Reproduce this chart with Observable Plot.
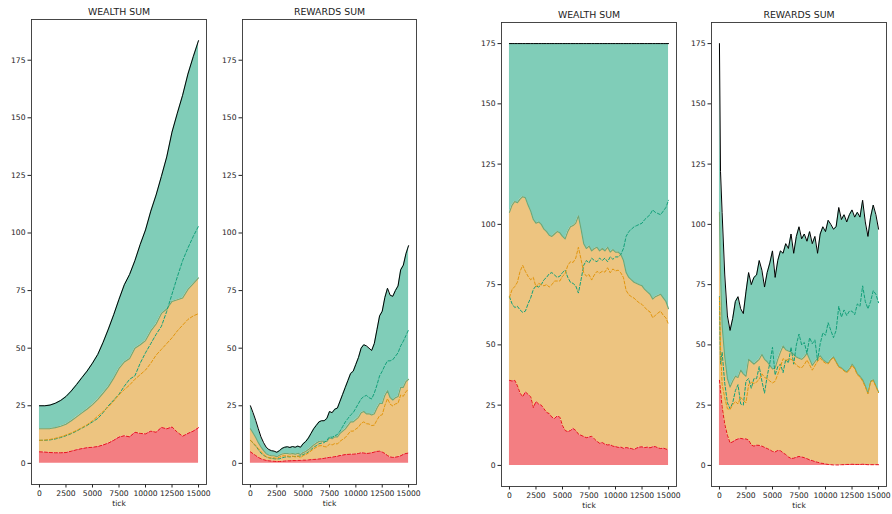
<!DOCTYPE html>
<html>
<head>
<meta charset="utf-8">
<script src="https://cdn.jsdelivr.net/npm/d3@7"></script>
<script src="https://cdn.jsdelivr.net/npm/@observablehq/plot@0.6"></script>
<style>
  html, body { margin: 0; padding: 0; background: #fff; }
  #fig { position: relative; width: 892px; height: 514px; overflow: hidden; font-family: "DejaVu Sans", sans-serif; }
  #fig svg { position: absolute; top: 0; overflow: visible; }
</style>
</head>
<body>
<div id="fig"></div>
<script>
// ---- sampling grids (tick) ----
const ticks500 = [0,500,1000,1500,2000,2500,3000,3500,4000,4500,5000,5500,6000,6500,7000,7500,
  8000,8500,9000,9500,10000,10500,11000,11500,12000,12500,13000,13500,14000,14500,15000];
const ticks250 = [0,250,500,750,1000,1250,1500,1750,2000,2250,2500,2750,3000,3250,3500,3750,
  4000,4250,4500,4750,5000,5250,5500,5750,6000,6250,6500,6750,7000,7250,7500,7750,
  8000,8250,8500,8750,9000,9250,9500,9750,10000,10250,10500,10750,11000,11250,11500,11750,
  12000,12250,12500,12750,13000,13250,13500,13750,14000,14250,14500,14750,15000];
const ticksEarly = [0,100,250,500,750,1000,1250,1500,1750,2000,2250,2500,2750,3000,3250,3500,3750,
  4000,4250,4500,4750,5000,5250,5500,5750,6000,6250,6500,6750,7000,7250,7500,7750,
  8000,8250,8500,8750,9000,9250,9500,9750,10000,10250,10500,10750,11000,11250,11500,11750,
  12000,12250,12500,12750,13000,13250,13500,13750,14000,14250,14500,14750,15000];

// ---- run A: wealth sum ----
const wealthA_red = [5.0,4.9,4.7,4.6,4.6,4.7,5.3,5.9,6.4,6.8,7.0,7.3,8.0,8.8,10.0,11.4,
  12.0,11.5,13.5,13.0,12.8,14.0,13.5,15.6,15.0,15.8,13.5,11.8,13.0,14.0,15.5];
const wealthA_orange = [10.0,10.1,10.4,10.9,11.5,12.3,13.2,14.3,15.5,16.8,18.5,20.5,22.5,24.5,27.0,29.8,
  32.0,34.0,36.5,38.5,40.5,43.5,47.0,49.5,52.0,54.5,57.5,60.0,62.5,64.0,65.0];
const wealthA_green = [10.0,10.0,10.2,10.6,11.2,12.0,12.9,14.0,15.3,16.5,18.0,19.5,22.0,25.0,27.5,30.0,
  33.5,36.5,38.0,43.5,48.0,52.0,56.0,59.5,66.0,73.5,81.0,88.0,93.5,98.5,103.0];

// ---- run A: rewards sum ----
const rewardsA_red = [5.0,4.2,3.4,2.6,2.0,1.6,1.3,1.1,1.0,0.9,0.8,0.8,0.9,1.0,1.1,1.1,
  1.2,1.2,1.3,1.3,1.4,1.4,1.5,1.6,1.7,1.8,1.9,2.0,2.2,2.4,2.6,2.7,
  2.9,3.1,3.4,3.6,3.8,3.9,4.0,4.0,4.1,4.3,4.6,4.5,4.3,4.4,4.6,4.9,
  5.2,5.3,4.9,4.3,3.4,2.8,2.6,2.7,2.9,3.3,3.9,4.3,4.5];
const rewardsA_orange = [10,9.0,7.8,6.4,5.1,3.9,2.9,2.5,2.3,2.4,2.1,2.7,3.2,3.3,3.2,3.0,
  3.1,2.8,3.1,2.5,3.3,3.8,4.5,5.4,6.3,7.0,7.6,7.7,7.3,7.1,8.4,8.0,
  8.6,8.4,9.6,10.4,11.2,12.6,14.0,14.0,14.9,15.7,17.4,18.0,17.2,17.1,16.4,16.6,
  18.8,20.7,21.1,25.2,28.1,25.7,24.9,25.8,26.1,29.7,29.1,31.2,32.0];
const rewardsA_green = [10,8.8,7.5,6.0,4.4,3.5,2.8,2.4,2.2,2.0,1.9,2.0,2.4,2.7,2.9,2.8,
  3.0,3.0,3.1,3.2,3.8,4.3,5.0,6.0,7.0,7.7,8.5,8.8,9.0,10.0,11.5,11.3,
  12.0,12.5,14.0,16.0,18.0,19.5,21.0,22.0,24.0,26.0,28.0,29.0,29.5,28.5,28.0,30.5,
  34.0,38.0,40.0,42.5,44.5,44.5,45.0,46.5,48.0,51.0,53.0,55.5,58.0];

// ---- run B: wealth sum ----
const wealthB_red = [35.3,35,35.3,33,30,28.5,30.5,29.5,28.5,24,26.5,25.5,25,23.5,22,21.5,
  20,19.5,20.5,20,16.5,14.5,14,14.5,15.3,14.5,13,12.5,12,11.5,11.8,12.1,
  11,10,9.2,9.5,8.8,8.5,8.6,8,7.8,7.5,7.6,7.1,7.4,7.2,7,6.6,
  7.2,7.6,7.7,7.4,7.6,7.3,7.7,7.8,7.3,7,7.2,6.8,6.5];
const wealthB_orange = [69.7,73,74.2,76,80.5,83,80.5,78.5,77,78,74,75.5,75,74.5,75,74,
  75,76.5,76.5,76.5,78.5,79.5,83,84.5,84.2,86,90.5,85.5,80,78.5,79.2,76.9,
  79,80.5,79.8,80.5,80.2,82,79.9,81.5,80.7,81,79.9,77.9,72.6,70.8,70,69.4,
  68.3,67.4,66.8,65.6,64.4,63.7,61.3,62.2,63.2,64,62.3,61.2,58.5];
const wealthB_green = [70,67,65.5,66,64.5,63.5,64,67,69.5,73,74.5,74,75,77,78,79.5,
  80,79,78,78.5,80,81,78,76,75.5,74.5,71.5,77,83,85,84,86,
  85,84.5,86,85,86,84.5,86.5,85.5,86.5,86.5,87.5,90,95,97,98,99,
  99.5,100,100.5,102,103,104,106,105,104.5,104,105.5,107,110];

// ---- run B: rewards sum ----
const rewardsB_red = [35.3,31,24.3,17,12.5,9.3,9.8,10.5,11,11.2,11,11,10.5,8.5,8,8.4,8.3,
  8,7.5,7,6.5,5.8,5.6,6.2,6.1,5.2,4.5,3.5,2.9,3.0,3.4,3.7,3.5,
  3.2,2.8,2.3,2.0,1.6,1.3,1.0,0.8,0.6,0.4,0.3,0.2,0.2,0.2,0.3,0.3,
  0.4,0.4,0.5,0.4,0.4,0.4,0.5,0.4,0.3,0.3,0.3,0.3,0.3];
const rewardsB_orange = [69.7,49,33.7,28,23.5,23.2,25.2,26.5,25.5,28.3,27,26,33.5,34.5,34,34.6,35.7,
  38,36.5,36,35,34.2,34.9,37.8,40.9,44.3,43.5,44,44.1,43,41.6,40.8,40.5,
  41.8,43.7,41.7,39.5,41.4,43.2,44.5,43.2,42.4,42.1,43.7,44.8,42.8,40.8,40.2,39.2,
  38.4,39.6,41.5,40.1,37.6,36.6,35,32.6,29.7,34.7,35.2,32.7,30.2];
const rewardsB_green = [70,42,47,34,26,23.5,26,31,33.5,25.5,25,35,36,32,36,36,41,
  35,30,37,42.5,49,37.5,41,42,38.5,44,42.5,49,42,50,54.5,50,
  51,46.5,53,50.5,52,43.5,50.5,55,54,59.2,56,53,56,66,61.5,64.5,
  62.2,64,64,62.5,67,66,74.5,68,65,68,72.5,71,67.5];

// ---- axis ticks ----
const xTicks = [0, 2500, 5000, 7500, 10000, 12500, 15000];
const yTicks = [0, 25, 50, 75, 100, 125, 150, 175];

// ---- colours ----
const fillRed = "#f37e82", fillOrange = "#edc480", fillGreen = "#80cdb8";
const lineRed = "#e8141c", lineOrange = "#e2960f", lineGreen = "#13a07a", edgeGreen = "#6fa775";

function rows(tick, red, orange, green) {
  return tick.map((t, i) => ({
    tick: t, red: red[i], orange: orange[i], green: green[i],
    s1: red[i], s2: red[i] + orange[i], s3: red[i] + orange[i] + green[i]
  }));
}

const fig = document.getElementById("fig");

function panel({title, data, yDomain, L, R, T, B}) {
  const mL = 34, mR = 6;
  const width = (R - L) + mL + mR;
  const dash = "3,2";
  const svg = Plot.plot({
    width, height: 514,
    marginLeft: mL, marginRight: mR, marginTop: T, marginBottom: 514 - B,
    x: {domain: [-750, 15750]},
    y: {domain: yDomain},
    style: {fontFamily: "DejaVu Sans", fontSize: "7.6px", color: "#222", background: "transparent", overflow: "visible"},
    marks: [
      Plot.area(data, {x1: "tick", y1: 0, y2: "s1", fill: fillRed}),
      Plot.area(data, {x1: "tick", y1: "s1", y2: "s2", fill: fillOrange}),
      Plot.area(data, {x1: "tick", y1: "s2", y2: "s3", fill: fillGreen}),
      Plot.line(data, {x: "tick", y: "s2", stroke: edgeGreen, strokeWidth: 1.1}),
      Plot.line(data, {x: "tick", y: "green", stroke: lineGreen, strokeWidth: 1, strokeDasharray: dash}),
      Plot.line(data, {x: "tick", y: "orange", stroke: lineOrange, strokeWidth: 1, strokeDasharray: dash}),
      Plot.line(data, {x: "tick", y: "red", stroke: lineRed, strokeWidth: 1, strokeDasharray: dash}),
      Plot.line(data, {x: "tick", y: "s3", stroke: "#000", strokeWidth: 1}),
      Plot.axisX({ticks: xTicks, tickFormat: d => String(d), tickSize: 3.5, tickPadding: 3, label: null}),
      Plot.axisY({ticks: yTicks, tickFormat: d => String(d), tickSize: 3.5, tickPadding: 2.5, label: null}),
      Plot.frame({stroke: "#333", strokeWidth: 0.9}),
      Plot.text([title], {frameAnchor: "top", lineAnchor: "bottom", dy: -5, fontSize: 9.4, fill: "#222"}),
      Plot.text(["tick"], {frameAnchor: "bottom", lineAnchor: "bottom", dy: 21.5, fontSize: 7.6, fill: "#222"})
    ]
  });
  svg.style.left = (L - mL) + "px";
  fig.append(svg);
}

const yLeft = [-9.175, 192.675];
const yRight = [-8.75, 183.75];

panel({title: "WEALTH SUM", data: rows(ticks500, wealthA_red, wealthA_orange, wealthA_green), yDomain: yLeft, L: 31, R: 206, T: 19, B: 484});
panel({title: "REWARDS SUM", data: rows(ticks250, rewardsA_red, rewardsA_orange, rewardsA_green), yDomain: yLeft, L: 242, R: 416, T: 19, B: 484});
panel({title: "WEALTH SUM", data: rows(ticks250, wealthB_red, wealthB_orange, wealthB_green), yDomain: yRight, L: 501, R: 676, T: 22, B: 486});
panel({title: "REWARDS SUM", data: rows(ticksEarly, rewardsB_red, rewardsB_orange, rewardsB_green), yDomain: yRight, L: 711, R: 886, T: 22, B: 486});
</script>
</body>
</html>
